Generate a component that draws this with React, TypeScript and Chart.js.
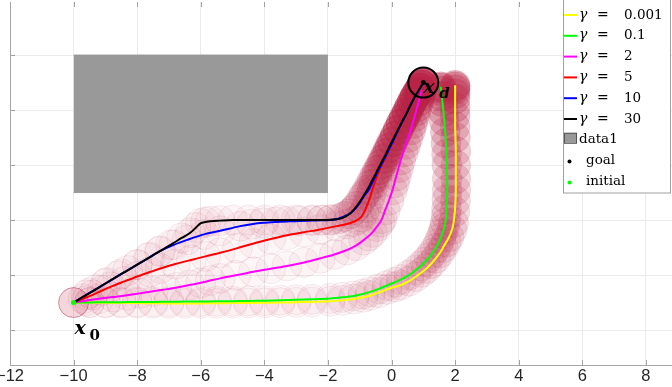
import React, { useEffect, useRef } from "react";
import { Chart, registerables } from "chart.js";
Chart.register(...registerables);

// ---------- data ----------
const xRange = [-12, 8.82];
const yRange = [-5.27, 7.93];
const xTickStep = 2;
const yTickStep = 2;

const gammaValues = ["0.001", "0.1", "2", "5", "10", "30"];
const gammaColors = ["#ffff00", "#00ff00", "#ff00ff", "#ff0000", "#0000ff", "#000000"];

const pathG0001: number[][] = [
  [-10, -3], [-9.5, -3.0], [-9, -3.01], [-8.5, -3.015], [-8, -3.02], [-7.5, -3.025], [-7, -3.03], [-6.5, -3.03],
  [-6, -3.03], [-5.5, -3.025], [-5, -3.02], [-4.5, -3.015], [-4, -3.01], [-3.5, -3.0], [-3, -2.99], [-2.5, -2.975],
  [-1.93, -2.95], [-1.55, -2.92], [-1.19, -2.87], [-0.9, -2.81], [-0.67, -2.74], [-0.4, -2.64], [-0.14, -2.52],
  [0.1, -2.43], [0.3, -2.36], [0.55, -2.22], [0.76, -2.06], [0.95, -1.9], [1.1, -1.76], [1.25, -1.58],
  [1.39, -1.39], [1.52, -1.19], [1.62, -1.0], [1.72, -0.8], [1.81, -0.61], [1.9, -0.35], [1.95, -0.1],
  [1.99, 0.3], [2.01, 0.7], [2.02, 1.09], [2.02, 1.5], [2.02, 2.0], [2.02, 2.5], [2.01, 3.0], [2.0, 3.4],
  [2.0, 3.8], [2.0, 4.1], [2.0, 4.4], [2.0, 4.6], [2.0, 4.75], [2.0, 4.85], [2.0, 4.9],
];
const pathG01: number[][] = [
  [-10, -3], [-9.5, -2.995], [-9, -2.99], [-8.5, -2.985], [-8, -2.98], [-7.5, -2.975], [-7, -2.97], [-6.5, -2.965],
  [-6, -2.96], [-5.5, -2.955], [-5, -2.95], [-4.5, -2.94], [-4, -2.93], [-3.5, -2.915], [-3, -2.9], [-2.5, -2.88],
  [-1.93, -2.85], [-1.55, -2.81], [-1.19, -2.76], [-0.9, -2.69], [-0.67, -2.61], [-0.4, -2.5], [-0.14, -2.38],
  [0.1, -2.26], [0.3, -2.16], [0.55, -2.0], [0.76, -1.82], [0.92, -1.67], [1.05, -1.52], [1.18, -1.36],
  [1.28, -1.21], [1.38, -1.03], [1.47, -0.85], [1.54, -0.66], [1.6, -0.48], [1.65, -0.3], [1.69, -0.1],
  [1.72, 0.15], [1.73, 0.4], [1.74, 0.75], [1.75, 1.09], [1.75, 1.5], [1.74, 2.0], [1.73, 2.4], [1.71, 2.79],
  [1.69, 3.2], [1.66, 3.6], [1.63, 3.95], [1.6, 4.3], [1.58, 4.5], [1.56, 4.7], [1.55, 4.8], [1.55, 4.85],
];
const pathG2: number[][] = [
  [-10, -3], [-9.6, -2.93], [-9.2, -2.86], [-8.75, -2.8], [-8.32, -2.73], [-7.9, -2.66], [-7.5, -2.59],
  [-7.1, -2.52], [-6.75, -2.45], [-6.35, -2.36], [-6, -2.28], [-5.7, -2.2], [-5.39, -2.12], [-4.9, -2.01],
  [-4.34, -1.88], [-3.8, -1.77], [-3.29, -1.67], [-2.75, -1.54], [-2.24, -1.39], [-1.8, -1.25], [-1.4, -1.09],
  [-1.12, -0.93], [-0.88, -0.73], [-0.72, -0.58], [-0.6, -0.45], [-0.46, -0.24], [-0.36, -0.08], [-0.3, 0.05],
  [-0.2, 0.36], [-0.08, 0.72], [0.03, 1.09], [0.09, 1.35], [0.15, 1.6], [0.22, 1.9], [0.29, 2.18], [0.37, 2.47],
  [0.45, 2.75], [0.52, 3.0], [0.6, 3.27], [0.66, 3.5], [0.72, 3.75], [0.77, 3.95], [0.81, 4.12], [0.86, 4.32],
  [0.9, 4.5], [0.93, 4.63], [0.95, 4.72],
];
const pathG5: number[][] = [
  [-10, -3], [-9.7, -2.86], [-9.4, -2.72], [-9.1, -2.56], [-8.84, -2.43], [-8.4, -2.23], [-8, -2.05],
  [-7.6, -1.89], [-7.27, -1.76], [-6.8, -1.6], [-6.3, -1.45], [-5.85, -1.32], [-5.39, -1.19], [-4.85, -1.02],
  [-4.34, -0.85], [-3.8, -0.69], [-3.29, -0.55], [-2.75, -0.44], [-2.24, -0.34], [-1.72, -0.22], [-1.4, -0.14],
  [-1.19, -0.06], [-1.05, 0.02], [-0.95, 0.12], [-0.87, 0.27], [-0.8, 0.45], [-0.73, 0.65], [-0.67, 0.85],
  [-0.62, 1.05], [-0.55, 1.3], [-0.47, 1.55], [-0.38, 1.82], [-0.29, 2.05], [-0.2, 2.25], [-0.12, 2.45],
  [-0.05, 2.65], [0.04, 2.85], [0.12, 3.05], [0.21, 3.28], [0.3, 3.5], [0.39, 3.7], [0.48, 3.9], [0.56, 4.1],
  [0.65, 4.3], [0.73, 4.48], [0.82, 4.65], [0.9, 4.8], [0.96, 4.92], [1.0, 5.0],
];
const pathG10: number[][] = [
  [-10, -3], [-9.5, -2.65], [-9, -2.31], [-8.5, -1.96], [-8, -1.62], [-7.6, -1.35], [-7.27, -1.12],
  [-6.85, -0.9], [-6.43, -0.72], [-5.9, -0.52], [-5.39, -0.39], [-4.76, -0.22], [-4.4, -0.15], [-4.03, -0.1],
  [-3.65, -0.07], [-3.29, -0.05], [-2.9, -0.03], [-2.5, -0.02], [-2.2, -0.01], [-1.93, 0], [-1.7, 0.04],
  [-1.51, 0.12], [-1.34, 0.22], [-1.19, 0.36], [-1.08, 0.5], [-1.0, 0.62], [-0.88, 0.85], [-0.8, 0.97],
  [-0.72, 1.09], [-0.63, 1.3], [-0.55, 1.5], [-0.47, 1.68], [-0.4, 1.85], [-0.31, 2.05], [-0.22, 2.25],
  [-0.13, 2.45], [-0.05, 2.65], [0.04, 2.85], [0.12, 3.05], [0.21, 3.28], [0.3, 3.5], [0.39, 3.7], [0.48, 3.9],
  [0.56, 4.1], [0.65, 4.3], [0.73, 4.48], [0.82, 4.65], [0.9, 4.8], [0.96, 4.92], [1.0, 5.0],
];
const pathG30: number[][] = [
  [-10, -3], [-9.6, -2.72], [-9.3, -2.52], [-8.95, -2.27], [-8.6, -2.03], [-8.3, -1.83], [-8, -1.62],
  [-7.65, -1.38], [-7.3, -1.14], [-6.95, -0.9], [-6.6, -0.65], [-6.33, -0.46], [-6.15, -0.27], [-6.01, -0.12],
  [-5.85, -0.07], [-5.7, -0.04], [-5.4, -0.02], [-5, 0], [-4.5, 0], [-4, 0], [-3.5, 0], [-3, 0], [-2.5, 0],
  [-2.2, 0.005], [-1.9, 0.01], [-1.6, 0.06], [-1.45, 0.13], [-1.3, 0.24], [-1.2, 0.36], [-1.1, 0.5],
  [-0.95, 0.75], [-0.86, 0.92], [-0.77, 1.09], [-0.68, 1.28], [-0.6, 1.47], [-0.52, 1.63], [-0.45, 1.8],
  [-0.36, 2.0], [-0.27, 2.2], [-0.18, 2.4], [-0.1, 2.6], [0.0, 2.83], [0.1, 3.05], [0.2, 3.28], [0.3, 3.5],
  [0.39, 3.7], [0.48, 3.9], [0.56, 4.1], [0.65, 4.3], [0.73, 4.48], [0.82, 4.65], [0.9, 4.8], [0.96, 4.92],
  [1.0, 5.0],
];
const paths = [pathG0001, pathG01, pathG2, pathG5, pathG10, pathG30];

const obstacleXs = [-10, -2];
const obstacleYs = [1, 6]; // bottom, top
const goalPoint = [1, 5];
const initialPoint = [-10, -3];

const legendExtra = ["data1", "goal", "initial"];

// ---------- helpers ----------
const toXY = (p: number[][]) => p.map(([x, y]) => ({ x, y }));

const overlayPlugin = {
  id: "overlay",
  afterDraw(chart: any) {
    const { ctx, chartArea: a, scales } = chart;
    const xs = scales.x;
    const ys = scales.y;
    ctx.save();
    // inward tick marks
    ctx.strokeStyle = "#a3a3a3";
    ctx.lineWidth = 1;
    ctx.beginPath();
    xs.ticks.forEach((t: any) => {
      const px = Math.round(xs.getPixelForValue(t.value)) + 0.5;
      ctx.moveTo(px, a.bottom);
      ctx.lineTo(px, a.bottom - 5);
      ctx.moveTo(px, a.top);
      ctx.lineTo(px, a.top + 5);
    });
    ys.ticks.forEach((t: any) => {
      const py = Math.round(ys.getPixelForValue(t.value)) + 0.5;
      ctx.moveTo(a.left, py);
      ctx.lineTo(a.left + 5, py);
    });
    ctx.stroke();

    // math labels
    ctx.fillStyle = "#000";
    ctx.textBaseline = "alphabetic";
    ctx.textAlign = "left";
    const px0 = xs.getPixelForValue(initialPoint[0]);
    const py0 = ys.getPixelForValue(initialPoint[1]);
    ctx.font = 'bold italic 19px "DejaVu Serif"';
    ctx.fillText("x", px0 + 1, py0 + 31);
    ctx.font = 'bold 15px "DejaVu Serif"';
    ctx.fillText("0", px0 + 16, py0 + 37);
    const gx = xs.getPixelForValue(goalPoint[0]);
    const gy = ys.getPixelForValue(goalPoint[1]);
    ctx.font = 'bold italic 19px "DejaVu Serif"';
    ctx.fillText("x", gx + 0, gy + 10);
    ctx.font = 'bold italic 15px "DejaVu Serif"';
    ctx.fillText("d", gx + 16, gy + 15);

    // legend
    const L = 563.5, T = -1, W = 107, H = 194;
    ctx.fillStyle = "#ffffff";
    ctx.fillRect(L, T, W, H);
    ctx.strokeStyle = "#a0a0a0";
    ctx.strokeRect(L, T, W, H);
    const rowY = (i: number) => 15 + i * 20.8;
    ctx.textBaseline = "middle";
    gammaValues.forEach((g, i) => {
      const cy = rowY(i);
      ctx.strokeStyle = gammaColors[i];
      ctx.lineWidth = 2;
      ctx.beginPath();
      ctx.moveTo(564, cy);
      ctx.lineTo(577, cy);
      ctx.stroke();
      ctx.fillStyle = "#000";
      ctx.font = 'italic 14px "DejaVu Serif"';
      ctx.fillText("\u03b3", 579, cy);
      ctx.font = '14px "DejaVu Serif"';
      ctx.fillText("=", 597, cy);
      ctx.font = '13.5px "DejaVu Serif"';
      ctx.fillText(g, 624, cy);
    });
    // data1
    const cy = rowY(6);
    ctx.fillStyle = "#999999";
    ctx.fillRect(564, cy - 7, 13, 10);
    ctx.strokeStyle = "#555555";
    ctx.lineWidth = 1;
    ctx.strokeRect(564.5, cy - 6.5, 12, 10);
    ctx.fillStyle = "#000";
    ctx.font = '13.5px "DejaVu Serif"';
    ctx.fillText(legendExtra[0], 579, cy);
    // goal / initial
    [["#000000", legendExtra[1]], ["#00ff00", legendExtra[2]]].forEach(([c, label], k) => {
      const yy = rowY(7 + k);
      ctx.fillStyle = c;
      ctx.beginPath();
      ctx.arc(569.5, yy + 1, 2, 0, Math.PI * 2);
      ctx.fill();
      ctx.fillStyle = "#000";
      ctx.fillText(label, 586, yy);
    });
    ctx.restore();
  },
};

export default function App() {
  const ref = useRef<HTMLCanvasElement | null>(null);
  useEffect(() => {
    if (!ref.current) return;
    const circleSets = paths.map((p) => ({
      type: "scatter" as const,
      data: toXY(p),
      order: 30,
      showLine: false,
      pointRadius: 15,
      pointHoverRadius: 15,
      pointBorderWidth: 0.8,
      pointBackgroundColor: (c: any) => {
        const t = c.dataIndex / (p.length - 1);
        const al = 0.03 + 0.32 * Math.pow(t, 3);
        return `rgba(185,35,70,${al.toFixed(3)})`;
      },
      pointBorderColor: "rgba(165,40,80,0.11)",
    }));
    const obstacle = [
      {
        type: "line" as const,
        data: obstacleXs.map((x) => ({ x, y: obstacleYs[1] })),
        borderColor: "#999999",
        borderWidth: 1,
        backgroundColor: "#999999",
        fill: "+1",
        pointRadius: 0,
        order: 40,
      },
      {
        type: "line" as const,
        data: obstacleXs.map((x) => ({ x, y: obstacleYs[0] })),
        borderColor: "#999999",
        borderWidth: 1,
        fill: false,
        pointRadius: 0,
        order: 40,
      },
    ];
    const lines = paths.map((p, k) => ({
      type: "line" as const,
      data: toXY(p),
      borderColor: gammaColors[k],
      borderWidth: 2,
      pointRadius: 0,
      tension: 0.3,
      fill: false,
      order: 20 - k,
    }));
    const markers = [
      {
        type: "scatter" as const,
        data: [{ x: goalPoint[0], y: goalPoint[1] }],
        pointRadius: 15,
        pointBackgroundColor: "rgba(0,0,0,0)",
        pointBorderColor: "#000",
        pointBorderWidth: 2,
        order: 5,
      },
      {
        type: "scatter" as const,
        data: [{ x: goalPoint[0], y: goalPoint[1] }],
        pointRadius: 2.5,
        pointBackgroundColor: "#000",
        pointBorderWidth: 0,
        order: 4,
      },
      {
        type: "scatter" as const,
        data: [{ x: initialPoint[0], y: initialPoint[1] }],
        pointRadius: 2.5,
        pointBackgroundColor: "#00ff00",
        pointBorderWidth: 0,
        order: 3,
      },
    ];
    const chart = new Chart(ref.current, {
      type: "scatter",
      data: { datasets: [...circleSets, ...obstacle, ...lines, ...markers] as any },
      options: {
        animation: false,
        responsive: false,
        events: [],
        layout: { autoPadding: false, padding: { top: 2, left: 0, right: 0, bottom: 0 } },
        plugins: { legend: { display: false }, tooltip: { enabled: false } },
        scales: {
          x: {
            type: "linear",
            min: xRange[0],
            max: xRange[1],
            ticks: {
              stepSize: xTickStep,
              includeBounds: false,
              autoSkip: false,
              maxRotation: 0,
              padding: 2,
              color: "#262626",
              font: { family: "Liberation Sans", size: 16.5 },
              callback: (v: any) => String(v).replace("-", "\u2212"),
            },
            grid: { color: "#ebebeb", drawTicks: false, tickLength: 0 },
            border: { color: "#a6a6a6" },
            afterFit: (s: any) => {
              s.height = 22;
              s.paddingLeft = 0;
              s.paddingRight = 0;
            },
          },
          y: {
            type: "linear",
            min: yRange[0],
            max: yRange[1],
            ticks: { stepSize: yTickStep, includeBounds: false, display: false },
            grid: { color: "#ebebeb", drawTicks: false, tickLength: 0 },
            border: { color: "#a6a6a6" },
            afterFit: (s: any) => {
              s.width = 10;
              s.paddingTop = 0;
              s.paddingBottom = 0;
            },
          },
        },
      },
      plugins: [overlayPlugin],
    } as any);
    return () => chart.destroy();
  }, []);
  return (
    <div style={{ position: "fixed", left: 0, top: 0, width: 672, height: 387, background: "#fff" }}>
      <canvas ref={ref} width={672} height={387} style={{ display: "block", width: 672, height: 387 }} />
    </div>
  );
}
